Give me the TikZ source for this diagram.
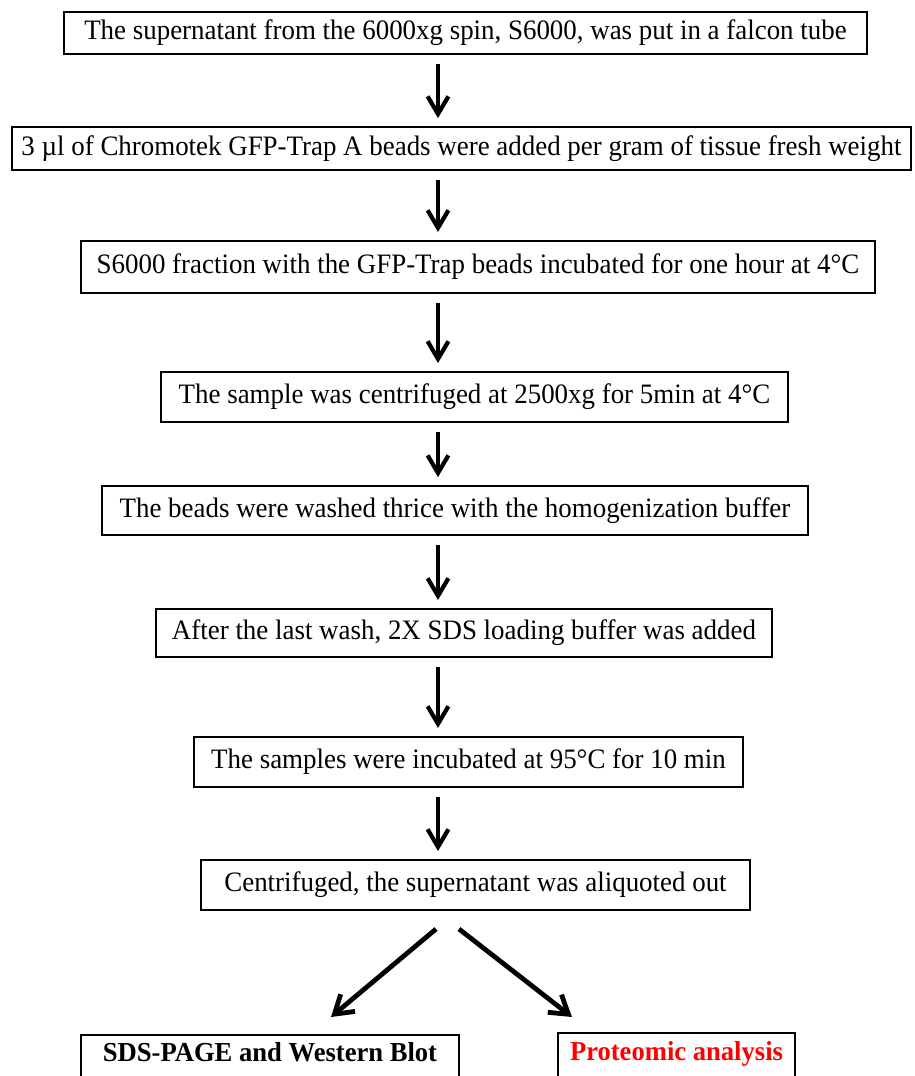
\documentclass[tikz,border=0pt]{standalone}
\usepackage{fontspec}
\setmainfont{Liberation Serif}
\usetikzlibrary{arrows.meta}

\tikzset{
    stepbox/.style={draw, line width=1.4pt, inner sep=0pt, align=center,
        font=\fontsize{20}{24}\selectfont\addfontfeature{FakeStretch=0.957}},
    endbox/.style={stepbox, anchor=base, text depth=1cm,
        font=\fontsize{19.5}{23}\selectfont\bfseries\addfontfeature{FakeStretch=0.97}},
    flow/.style={line width=3pt, -{Straight Barb[length=4.4mm,width=5.2mm,line width=3pt]},
        shorten <=0.22cm, shorten >=0.2cm},
    fork/.style={line width=3.4pt, -{Straight Barb[length=4.4mm,width=5.6mm,line width=3.4pt]}}
}

\begin{document}
\begin{tikzpicture}[x=0.025cm, y=-0.025cm]
    \useasboundingbox (0,0) rectangle (914,1076);

    % Protocol steps
    \node[stepbox, minimum width=20.08cm, minimum height=1.05cm] (b1) at (465.5,33)
        {The supernatant from the 6000xg spin, S6000, was put in a falcon tube};
    \node[stepbox, minimum width=22.47cm, minimum height=1.07cm] (b2) at (461.5,148.5)
        {3 µl of Chromotek GFP-Trap A beads were added per gram of tissue fresh weight};
    \node[stepbox, minimum width=19.85cm, minimum height=1.3cm] (b3) at (478,267)
        {S6000 fraction with the GFP-Trap beads incubated for one hour at 4°C};
    \node[stepbox, minimum width=15.68cm, minimum height=1.25cm] (b4) at (474.5,397)
        {The sample was centrifuged at 2500xg for 5min at 4°C};
    \node[stepbox, minimum width=17.65cm, minimum height=1.22cm] (b5) at (455,510.5)
        {The beads were washed thrice with the homogenization buffer};
    \node[stepbox, minimum width=15.4cm, minimum height=1.2cm] (b6) at (464,633)
        {After the last wash, 2X SDS loading buffer was added};
    \node[stepbox, minimum width=13.72cm, minimum height=1.25cm] (b7) at (468.5,762)
        {The samples were incubated at 95°C for 10 min};
    \node[stepbox, minimum width=13.72cm, minimum height=1.25cm] (b8) at (475.5,885)
        {Centrifuged, the supernatant was aliquoted out};

    % Final analyses (cut off by the page edge)
    \node[endbox, minimum width=9.45cm, text height=0.65cm] (bl) at (270,1061)
        {SDS-PAGE and Western Blot};
    \node[endbox, minimum width=5.93cm, text height=0.68cm, text=red] (br) at (676.5,1060)
        {Proteomic analysis};

    % Vertical arrows
    \coordinate (spine) at (438,0);
    \foreach \a/\b in {b1/b2, b2/b3, b3/b4, b4/b5, b5/b6, b6/b7, b7/b8} {
        \draw[flow] (\a.south -| spine) -- (\b.north -| spine);
    }

    % Split into the two analyses
    \coordinate (forkL) at (436,929);
    \coordinate (forkR) at (459,929);
    \coordinate (tipL) at (331,1017);
    \coordinate (tipR) at (572,1017);
    \draw[fork] (forkL) -- (tipL);
    \draw[fork] (forkR) -- (tipR);
\end{tikzpicture}
\end{document}
